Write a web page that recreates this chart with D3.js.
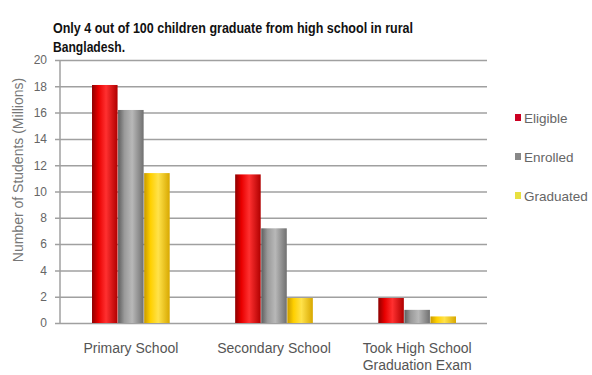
<!DOCTYPE html>
<html>
<head>
<meta charset="utf-8">
<script src="https://cdn.jsdelivr.net/npm/d3@7"></script>
<style>
  body { margin: 0; background: #fff; }
  text { font-family: "Liberation Sans", Arial, sans-serif; }
</style>
</head>
<body>
<svg id="chart" width="592" height="375"></svg>
<script>
const categories = ["Primary School", "Secondary School", "Took High School|Graduation Exam"];
const series = ["Eligible", "Enrolled", "Graduated"];
const eligible = [18.1, 11.3, 1.9];
const enrolled = [16.2, 7.2, 1.0];
const graduated = [11.4, 1.9, 0.5];
const yTicks = [0, 2, 4, 6, 8, 10, 12, 14, 16, 18, 20];

const values = [eligible, enrolled, graduated];
const colors = {
    Eligible: ["#8e0000", "#e80000", "#ff3030", "#b00000"],
    Enrolled: ["#5e5e5e", "#9a9a9a", "#b8b8b8", "#707070"],
    Graduated: ["#c89a00", "#ffd000", "#ffe24a", "#d8a800"]
};
const legendColors = { Eligible: "#cc0022", Enrolled: "#888", Graduated: "#e8e040" };

const svg = d3.select("#chart");
const margin = { left: 60, right: 104, top: 60, bottom: 52 };
const width = 592 - margin.left - margin.right;
const height = 375 - margin.top - margin.bottom;

const g = svg.append("g").attr("transform", `translate(${margin.left},${margin.top})`);

// gradients for the shaded bars
const defs = svg.append("defs");
series.forEach(s => {
    const grad = defs.append("linearGradient").attr("id", "grad-" + s)
        .attr("x1", "0%").attr("x2", "100%").attr("y1", "0%").attr("y2", "0%");
    const c = colors[s];
    grad.append("stop").attr("offset", "0%").attr("stop-color", c[0]);
    grad.append("stop").attr("offset", "25%").attr("stop-color", c[1]);
    grad.append("stop").attr("offset", "55%").attr("stop-color", c[2]);
    grad.append("stop").attr("offset", "100%").attr("stop-color", c[3]);
});

const x0 = d3.scaleBand().domain(categories).range([0, width]).paddingInner(0.45).paddingOuter(0.22);
const x1 = d3.scaleBand().domain(series).range([0, x0.bandwidth()]).padding(0.02);
const y = d3.scaleLinear().domain([0, 20]).range([height, 0]);

// gridlines
g.append("g")
    .call(d3.axisLeft(y).tickValues(yTicks).tickSize(-width - 4).tickFormat(""))
    .call(a => a.select(".domain").remove())
    .call(a => a.selectAll("line").attr("stroke", "#a0a0a0").attr("stroke-width", 1.5)
        .attr("transform", "translate(-5,0)"));

// tick labels
g.append("g")
    .call(d3.axisLeft(y).tickValues(yTicks).tickSize(0).tickPadding(13))
    .call(a => a.select(".domain").remove())
    .call(a => a.selectAll("text").attr("fill", "#666").style("font-size", "12px"));

// bars
categories.forEach((c, i) => {
    series.forEach((s, j) => {
        const v = values[j][i];
        g.append("rect")
            .attr("x", x0(c) + x1(s))
            .attr("y", y(v))
            .attr("width", x1.bandwidth())
            .attr("height", height - y(v))
            .attr("fill", `url(#grad-${s})`);
    });
});

// y axis line
g.append("line").attr("x1", 0).attr("x2", 0).attr("y1", 0).attr("y2", height)
    .attr("stroke", "#a0a0a0").attr("stroke-width", 1.5);

// category labels
categories.forEach(c => {
    const lines = c.split("|");
    const cx = x0(c) + x0.bandwidth() / 2;
    const t = g.append("text")
        .attr("x", cx)
        .attr("y", height + 30)
        .attr("text-anchor", "middle")
        .attr("fill", "#555")
        .style("font-size", "14px");
    lines.forEach((l, k) => {
        t.append("tspan").attr("x", cx).attr("dy", k === 0 ? 0 : 17).text(l);
    });
});

// y axis title
svg.append("text")
    .attr("transform", "translate(23,170) rotate(-90)")
    .attr("text-anchor", "middle")
    .attr("fill", "#777")
    .style("font-size", "14px")
    .text("Number of Students (Millions)");

// title (condensed look)
svg.append("text")
    .attr("x", 53).attr("y", 33)
    .style("font-weight", "bold").style("font-size", "14px").attr("fill", "#111")
    .attr("textLength", 360).attr("lengthAdjust", "spacingAndGlyphs")
    .text("Only 4 out of 100 children graduate from high school in rural");
svg.append("text")
    .attr("x", 53).attr("y", 52)
    .style("font-weight", "bold").style("font-size", "14px").attr("fill", "#111")
    .attr("textLength", 72).attr("lengthAdjust", "spacingAndGlyphs")
    .text("Bangladesh.");

// legend
const legend = svg.append("g").attr("transform", "translate(515,0)");
series.forEach((s, i) => {
    const ly = 119 + i * 39;
    legend.append("rect").attr("x", 0).attr("y", ly - 5).attr("width", 6).attr("height", 7)
        .attr("fill", legendColors[s]);
    legend.append("text").attr("x", 9).attr("y", ly + 4)
        .attr("fill", "#666").style("font-size", "13.5px").text(s);
});
</script>
</body>
</html>
